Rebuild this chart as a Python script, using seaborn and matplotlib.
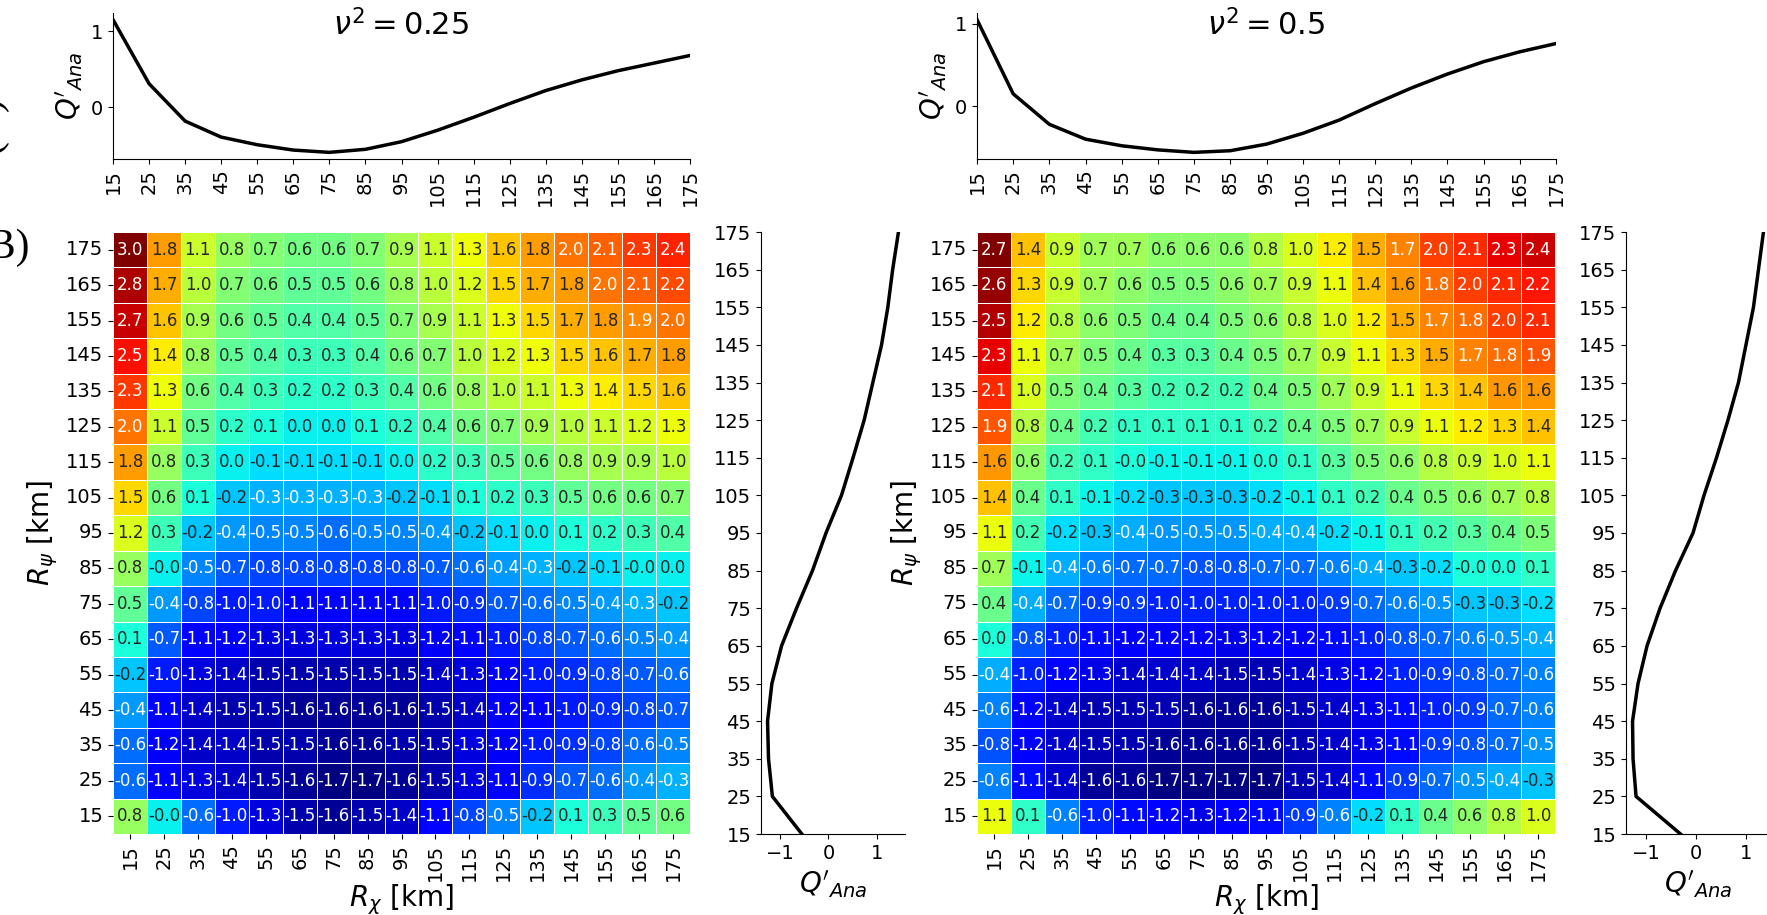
import numpy as np
import pandas as pd
import matplotlib
matplotlib.use("Agg")
import matplotlib.pyplot as plt
import seaborn as sns

# ---------------- data ----------------
r_chi = [15, 25, 35, 45, 55, 65, 75, 85, 95, 105, 115, 125, 135, 145, 155, 165, 175]
r_psi_desc = [175, 165, 155, 145, 135, 125, 115, 105, 95, 85, 75, 65, 55, 45, 35, 25, 15]
r_psi_asc = r_psi_desc[::-1]

# heatmap nu^2 = 0.25 (rows R_psi from 175 down to 15)
q_025 = [
    [3.0, 1.8, 1.1, 0.8, 0.7, 0.6, 0.6, 0.7, 0.9, 1.1, 1.3, 1.6, 1.8, 2.0, 2.1, 2.3, 2.4],
    [2.8, 1.7, 1.0, 0.7, 0.6, 0.5, 0.5, 0.6, 0.8, 1.0, 1.2, 1.5, 1.7, 1.8, 2.0, 2.1, 2.2],
    [2.7, 1.6, 0.9, 0.6, 0.5, 0.4, 0.4, 0.5, 0.7, 0.9, 1.1, 1.3, 1.5, 1.7, 1.8, 1.9, 2.0],
    [2.5, 1.4, 0.8, 0.5, 0.4, 0.3, 0.3, 0.4, 0.6, 0.7, 1.0, 1.2, 1.3, 1.5, 1.6, 1.7, 1.8],
    [2.3, 1.3, 0.6, 0.4, 0.3, 0.2, 0.2, 0.3, 0.4, 0.6, 0.8, 1.0, 1.1, 1.3, 1.4, 1.5, 1.6],
    [2.0, 1.1, 0.5, 0.2, 0.1, 0.0, 0.0, 0.1, 0.2, 0.4, 0.6, 0.7, 0.9, 1.0, 1.1, 1.2, 1.3],
    [1.8, 0.8, 0.3, 0.0, -0.1, -0.1, -0.1, -0.1, 0.0, 0.2, 0.3, 0.5, 0.6, 0.8, 0.9, 0.9, 1.0],
    [1.5, 0.6, 0.1, -0.2, -0.3, -0.3, -0.3, -0.3, -0.2, -0.1, 0.1, 0.2, 0.3, 0.5, 0.6, 0.6, 0.7],
    [1.2, 0.3, -0.2, -0.4, -0.5, -0.5, -0.6, -0.5, -0.5, -0.4, -0.2, -0.1, 0.0, 0.1, 0.2, 0.3, 0.4],
    [0.8, -0.01, -0.5, -0.7, -0.8, -0.8, -0.8, -0.8, -0.8, -0.7, -0.6, -0.4, -0.3, -0.2, -0.1, -0.01, 0.0],
    [0.5, -0.4, -0.8, -1.0, -1.0, -1.1, -1.1, -1.1, -1.1, -1.0, -0.9, -0.7, -0.6, -0.5, -0.4, -0.3, -0.2],
    [0.1, -0.7, -1.1, -1.2, -1.3, -1.3, -1.3, -1.3, -1.3, -1.2, -1.1, -1.0, -0.8, -0.7, -0.6, -0.5, -0.4],
    [-0.2, -1.0, -1.3, -1.4, -1.5, -1.5, -1.5, -1.5, -1.5, -1.4, -1.3, -1.2, -1.0, -0.9, -0.8, -0.7, -0.6],
    [-0.4, -1.1, -1.4, -1.5, -1.5, -1.6, -1.6, -1.6, -1.6, -1.5, -1.4, -1.2, -1.1, -1.0, -0.9, -0.8, -0.7],
    [-0.6, -1.2, -1.4, -1.4, -1.5, -1.5, -1.6, -1.6, -1.5, -1.5, -1.3, -1.2, -1.0, -0.9, -0.8, -0.6, -0.5],
    [-0.6, -1.1, -1.3, -1.4, -1.5, -1.6, -1.7, -1.7, -1.6, -1.5, -1.3, -1.1, -0.9, -0.7, -0.6, -0.4, -0.3],
    [0.8, -0.01, -0.6, -1.0, -1.3, -1.5, -1.6, -1.5, -1.4, -1.1, -0.8, -0.5, -0.2, 0.1, 0.3, 0.5, 0.6],
]

# heatmap nu^2 = 0.5 (rows R_psi from 175 down to 15)
q_05 = [
    [2.7, 1.4, 0.9, 0.7, 0.7, 0.6, 0.6, 0.6, 0.8, 1.0, 1.2, 1.5, 1.7, 2.0, 2.1, 2.3, 2.4],
    [2.6, 1.3, 0.9, 0.7, 0.6, 0.5, 0.5, 0.6, 0.7, 0.9, 1.1, 1.4, 1.6, 1.8, 2.0, 2.1, 2.2],
    [2.5, 1.2, 0.8, 0.6, 0.5, 0.4, 0.4, 0.5, 0.6, 0.8, 1.0, 1.2, 1.5, 1.7, 1.8, 2.0, 2.1],
    [2.3, 1.1, 0.7, 0.5, 0.4, 0.3, 0.3, 0.4, 0.5, 0.7, 0.9, 1.1, 1.3, 1.5, 1.7, 1.8, 1.9],
    [2.1, 1.0, 0.5, 0.4, 0.3, 0.2, 0.2, 0.2, 0.4, 0.5, 0.7, 0.9, 1.1, 1.3, 1.4, 1.6, 1.6],
    [1.9, 0.8, 0.4, 0.2, 0.1, 0.1, 0.1, 0.1, 0.2, 0.4, 0.5, 0.7, 0.9, 1.1, 1.2, 1.3, 1.4],
    [1.6, 0.6, 0.2, 0.1, -0.01, -0.1, -0.1, -0.1, 0.0, 0.1, 0.3, 0.5, 0.6, 0.8, 0.9, 1.0, 1.1],
    [1.4, 0.4, 0.1, -0.1, -0.2, -0.3, -0.3, -0.3, -0.2, -0.1, 0.1, 0.2, 0.4, 0.5, 0.6, 0.7, 0.8],
    [1.1, 0.2, -0.2, -0.3, -0.4, -0.5, -0.5, -0.5, -0.4, -0.4, -0.2, -0.1, 0.1, 0.2, 0.3, 0.4, 0.5],
    [0.7, -0.1, -0.4, -0.6, -0.7, -0.7, -0.8, -0.8, -0.7, -0.7, -0.6, -0.4, -0.3, -0.2, -0.01, 0.0, 0.1],
    [0.4, -0.4, -0.7, -0.9, -0.9, -1.0, -1.0, -1.0, -1.0, -1.0, -0.9, -0.7, -0.6, -0.5, -0.3, -0.3, -0.2],
    [0.0, -0.8, -1.0, -1.1, -1.2, -1.2, -1.2, -1.3, -1.2, -1.2, -1.1, -1.0, -0.8, -0.7, -0.6, -0.5, -0.4],
    [-0.4, -1.0, -1.2, -1.3, -1.4, -1.4, -1.4, -1.5, -1.5, -1.4, -1.3, -1.2, -1.0, -0.9, -0.8, -0.7, -0.6],
    [-0.6, -1.2, -1.4, -1.5, -1.5, -1.5, -1.6, -1.6, -1.6, -1.5, -1.4, -1.3, -1.1, -1.0, -0.9, -0.7, -0.6],
    [-0.8, -1.2, -1.4, -1.5, -1.5, -1.6, -1.6, -1.6, -1.6, -1.5, -1.4, -1.3, -1.1, -0.9, -0.8, -0.7, -0.5],
    [-0.6, -1.1, -1.4, -1.6, -1.6, -1.7, -1.7, -1.7, -1.7, -1.5, -1.4, -1.1, -0.9, -0.7, -0.5, -0.4, -0.3],
    [1.1, 0.1, -0.6, -1.0, -1.1, -1.2, -1.3, -1.2, -1.1, -0.9, -0.6, -0.2, 0.1, 0.4, 0.6, 0.8, 1.0],
]

# top line plots: Q'_Ana vs R_chi
top_025 = [1.15, 0.31, -0.18, -0.39, -0.49, -0.56, -0.59, -0.55, -0.45, -0.30, -0.13, 0.05, 0.22, 0.36, 0.48, 0.58, 0.68]
top_05 = [1.05, 0.15, -0.22, -0.40, -0.48, -0.53, -0.56, -0.54, -0.46, -0.33, -0.17, 0.03, 0.22, 0.39, 0.54, 0.66, 0.76]

# side profiles: Q'_Ana vs R_psi (from 15 up to 175)
side_025 = [-0.55, -1.16, -1.24, -1.26, -1.17, -0.97, -0.66, -0.33, -0.05, 0.27, 0.51, 0.74, 0.92, 1.10, 1.23, 1.33, 1.45]
side_05 = [-0.31, -1.20, -1.26, -1.27, -1.16, -0.98, -0.72, -0.41, -0.06, 0.16, 0.41, 0.64, 0.85, 1.00, 1.15, 1.25, 1.35]

titles = [r"$\nu^2 = 0.25$", r"$\nu^2 = 0.5$"]

# ---------------- figure ----------------
W, H = 1767, 915
fig = plt.figure(figsize=(W / 100, H / 100), dpi=100)


def box(x0, y0, x1, y1):
    return [x0 / W, 1 - y1 / H, (x1 - x0) / W, (y1 - y0) / H]


TICK = 14
LAB = 20
ANN = 12

panels = [
    dict(top=box(113, 13, 690, 159), hm=box(113, 232, 690, 834), side=box(761, 232, 905, 834),
         grid=q_025, top_line=top_025, side_line=side_025, title=titles[0]),
    dict(top=box(977, 13, 1556, 159), hm=box(977, 232, 1555, 834), side=box(1626, 232, 1770, 834),
         grid=q_05, top_line=top_05, side_line=side_05, title=titles[1]),
]

for p in panels:
    # top line plot
    axt = fig.add_axes(p["top"])
    sns.lineplot(x=r_chi, y=p["top_line"], ax=axt, color="black", linewidth=2.5)
    axt.set_xlim(15, 175)
    axt.set_xticks(r_chi)
    axt.set_xticklabels([str(v) for v in r_chi], rotation=90)
    axt.set_yticks([0, 1])
    axt.tick_params(labelsize=TICK)
    axt.set_ylabel(r"$Q'_{Ana}$", fontsize=LAB)
    sns.despine(ax=axt)
    axt.text(0.5, 0.92, p["title"], transform=axt.transAxes, ha="center", va="center", fontsize=22)

    # heatmap
    axh = fig.add_axes(p["hm"])
    df = pd.DataFrame(p["grid"], index=r_psi_desc, columns=r_chi)
    sns.heatmap(df, ax=axh, cmap="jet", annot=True, fmt=".1f", annot_kws={"size": ANN},
                linewidths=0.6, linecolor="white", cbar=False, square=False)
    axh.set_xticklabels([str(v) for v in r_chi], rotation=90)
    axh.set_yticklabels([str(v) for v in r_psi_desc], rotation=0)
    axh.tick_params(labelsize=TICK)
    axh.set_xlabel(r"$R_\chi$ [km]", fontsize=LAB, labelpad=1)
    axh.set_ylabel(r"$R_\psi$ [km]", fontsize=LAB)

    # side profile
    axs = fig.add_axes(p["side"])
    sns.lineplot(x=p["side_line"], y=r_psi_asc, ax=axs, color="black", linewidth=2.5,
                 sort=False, orient="y")
    axs.set_ylim(15, 175)
    axs.set_yticks(r_psi_asc)
    axs.set_xticks([-1, 0, 1])
    axs.tick_params(labelsize=TICK)
    axs.set_xlabel(r"$Q'_{Ana}$", fontsize=LAB)
    axs.set_ylabel("")
    sns.despine(ax=axs)

# panel labels cut at the left edge
fig.text(30 / W, 1 - 248 / H, "(B)", ha="right", va="center", fontsize=30, family="Liberation Serif")
fig.text(8 / W, 1 - 125 / H, "(A)", ha="right", va="center", rotation=90, fontsize=30,
         family="Liberation Serif")

fig.savefig("out.png", dpi=100)
